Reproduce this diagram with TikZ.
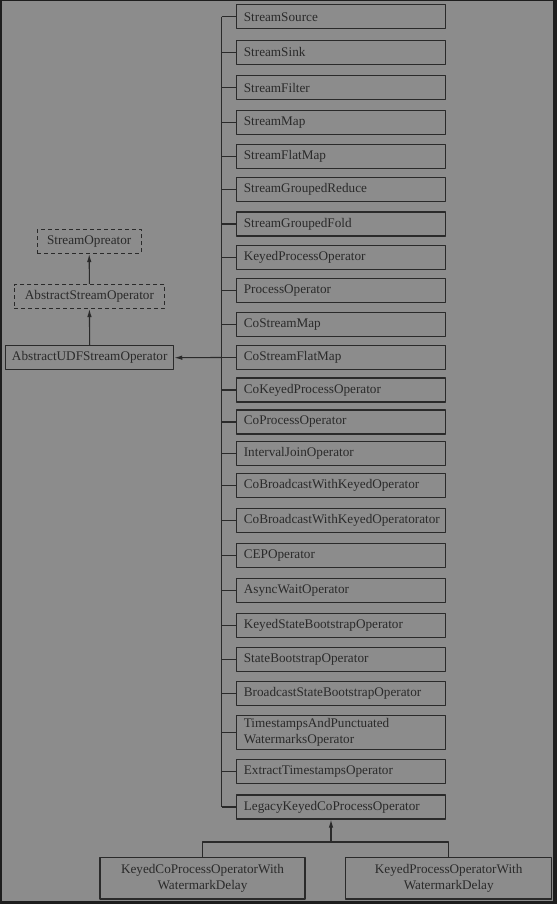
\documentclass[tikz,border=0pt]{standalone}
\usepackage{fontspec}
\setmainfont{Liberation Serif}
\usetikzlibrary{arrows.meta}
\definecolor{bggray}{HTML}{8C8C8C}
\definecolor{framegray}{HTML}{1E1E1E}
\definecolor{inkgray}{HTML}{2A2A2A}
\begin{document}
\begin{tikzpicture}[x=1pt,y=-1pt,font=\fontsize{13.2}{15.5}\selectfont,color=inkgray,line width=1.1pt,line join=round,>={Latex[length=8pt,width=4.5pt]},
  cls/.style={draw,minimum height=24pt,inner ysep=3pt},
  sub/.style={cls,anchor=west,text width=194.4pt,inner xsep=7.6pt,align=left},
  abs/.style={cls,dash pattern=on 4pt off 3pt}]
\def \xbox{235.7};
\def \xtrunk{221.7};
\useasboundingbox (0,0) rectangle (557,904);
\fill[framegray] (0,0) rectangle (557,904);
\fill[bggray] (2.3,1) rectangle (552.7,901);
\coordinate (trunk) at (\xtrunk,0);
% subclasses of AbstractUDFStreamOperator
\foreach \i/\y/\t in {1/16.7/StreamSource,2/52.3/StreamSink,3/87.5/StreamFilter,4/122.3/StreamMap,
  5/156.8/StreamFlatMap,6/189.7/StreamGroupedReduce,7/224/StreamGroupedFold,8/257.2/KeyedProcessOperator,
  9/290.8/ProcessOperator,10/324.3/CoStreamMap,11/357.5/CoStreamFlatMap,12/390/CoKeyedProcessOperator,
  13/422/CoProcessOperator,14/453.3/IntervalJoinOperator,15/485.5/CoBroadcastWithKeyedOperator,
  16/520.3/CoBroadcastWithKeyedOperatorator,17/555.3/CEPOperator,18/590.5/AsyncWaitOperator,
  19/625.3/KeyedStateBootstrapOperator,20/659.3/StateBootstrapOperator,21/693.3/BroadcastStateBootstrapOperator,
  22/732.5/{TimestampsAndPunctuated\\WatermarksOperator},23/771.3/ExtractTimestampsOperator,
  24/807/LegacyKeyedCoProcessOperator}
  {\node[sub] (b\i) at (\xbox,\y) {\t};
   \draw (b\i.west -| trunk) -- (b\i.west);}
\draw (b1.west -| trunk) -- (b24.west -| trunk);
% base classes
\node[abs,minimum width=103.7pt] (sop) at (89.2,241.5) {StreamOpreator};
\node[abs,minimum width=150.7pt] (asop) at (89.4,296.5) {AbstractStreamOperator};
\node[cls,minimum width=168pt] (udf) at (89.7,357.7) {AbstractUDFStreamOperator};
\draw[->] (asop.north) -- (sop.south);
\draw[->] (udf.north) -- (asop.south);
\draw[->] (b11.west -| trunk) -- (udf.east);
% subclasses of LegacyKeyedCoProcessOperator
\node[cls,minimum width=205pt,minimum height=41.3pt,align=center] (kcpo) at (202.5,878.3) {KeyedCoProcessOperatorWith\\WatermarkDelay};
\node[cls,minimum width=206pt,minimum height=41.3pt,align=center] (kpo) at (448.7,878.3) {KeyedProcessOperatorWith\\WatermarkDelay};
\coordinate (joint) at (331,842);
\draw (kcpo.north) |- (joint) -| (kpo.north);
\draw[->] (joint) -- (joint |- b24.south);
\end{tikzpicture}
\end{document}
